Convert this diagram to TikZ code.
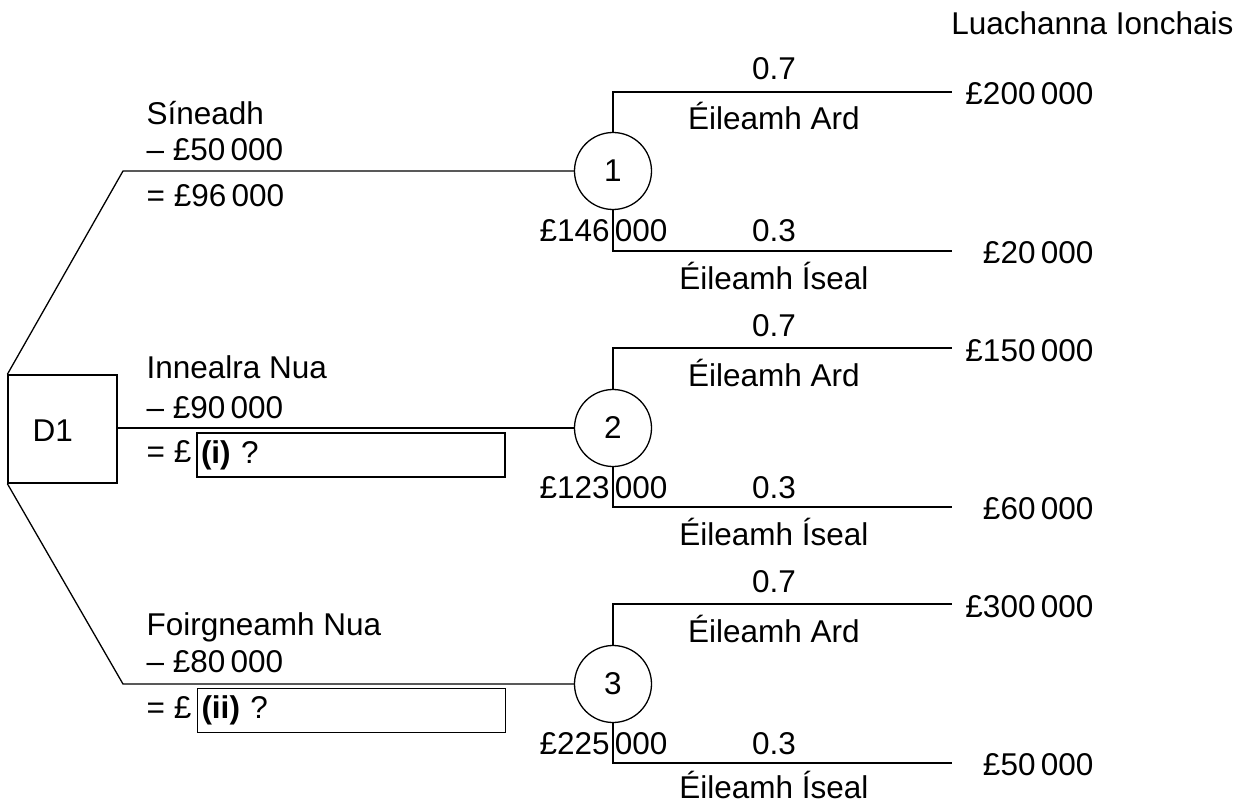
\documentclass[tikz,border=0pt]{standalone}
\usepackage{fontspec}
\setmainfont{Liberation Sans}
\begin{document}
\begin{tikzpicture}[x=1pt,y=-1pt, line width=1.3pt,
  every node/.style={font=\fontsize{31.5}{37}\selectfont, inner sep=0pt},
  chance/.style={draw, circle, minimum size=77pt},
  decision/.style={draw, rectangle, minimum width=109pt, minimum height=108pt},
  lbl/.style={anchor=base west},
  brl/.style={anchor=base},
  val/.style={anchor=base east},
  ansbox/.style={draw, text width=300pt, inner xsep=4pt, inner ysep=0pt, minimum height=44pt, align=left}]
\useasboundingbox (0,0) rectangle (1237,805);

% decision node
\node (d1) [decision] at (62.5,429) {};
\node (d1t) [lbl] at (32,441) {D1};

% chance nodes
\node (c1) [chance] at (613,171) {1};
\node (c2) [chance] at (613,428) {2};
\node (c3) [chance] at (613,684) {3};

% corners and free ends
\coordinate (k1) at (123,171);
\coordinate (k3) at (123,684);
\coordinate (e1) at (952,92);
\coordinate (f1) at (952,251);
\coordinate (e2) at (952,348);
\coordinate (f2) at (952,507);
\coordinate (e3) at (952,604);
\coordinate (f3) at (952,763);

% connectors
\draw (d1.north west) -- (k1) -- (c1.west);
\draw (d1.east |- c2.west) -- (c2.west);
\draw (d1.south west) -- (k3) -- (c3.west);
\draw (c1.north) |- (e1);
\draw (c1.south) |- (f1);
\draw (c2.north) |- (e2);
\draw (c2.south) |- (f2);
\draw (c3.north) |- (e3);
\draw (c3.south) |- (f3);

% header
\node (hdr) [val] at (1234,35) {Luachanna Ionchais};

% left labels
\node (s1) [lbl] at (146,125) {Síneadh};
\node (s2) [lbl] at (146,161) {\textendash\ £50\,000};
\node (s3) [lbl] at (146,207) {= £96\,000};

\node (i1) [lbl] at (146,378) {Innealra Nua};
\node (i2) [lbl] at (146,418) {\textendash\ £90\,000};
\node (i3) [lbl] at (146,462) {= £};
\node (bi) [ansbox] at (351,455) {\textbf{(i)} ?};

\node (f1t) [lbl] at (146,635) {Foirgneamh Nua};
\node (f2t) [lbl] at (146,672) {\textendash\ £80\,000};
\node (f3t) [lbl] at (146,718) {= £};
\node (bii) [ansbox] at (351.5,710.5) {\textbf{(ii)} ?};

% chance node values
\node (ev1) [lbl] at (539,242) {£146\,000};
\node (ev2) [lbl] at (539,498) {£123\,000};
\node (ev3) [lbl] at (539,754) {£225\,000};

% branch labels
\foreach \t/\b/\d/\n in {92/251/38/1,348/507/38/2,604/763/35/3}{
  \node (p7\n) [brl] at (774,\t-12) {0.7};
  \node (ha\n) [brl] at (774,\t+38) {Éileamh Ard};
  \node (p3\n) [brl] at (774,\b-9) {0.3};
  \node (lo\n) [brl] at (774,\b+\d) {Éileamh Íseal};
}

% payoffs
\node (v1) [val] at (1094,105) {£200\,000};
\node (v2) [val] at (1094,263) {£20\,000};
\node (v3) [val] at (1094,361) {£150\,000};
\node (v4) [val] at (1094,519) {£60\,000};
\node (v5) [val] at (1094,617) {£300\,000};
\node (v6) [val] at (1094,775) {£50\,000};
\end{tikzpicture}
\end{document}
